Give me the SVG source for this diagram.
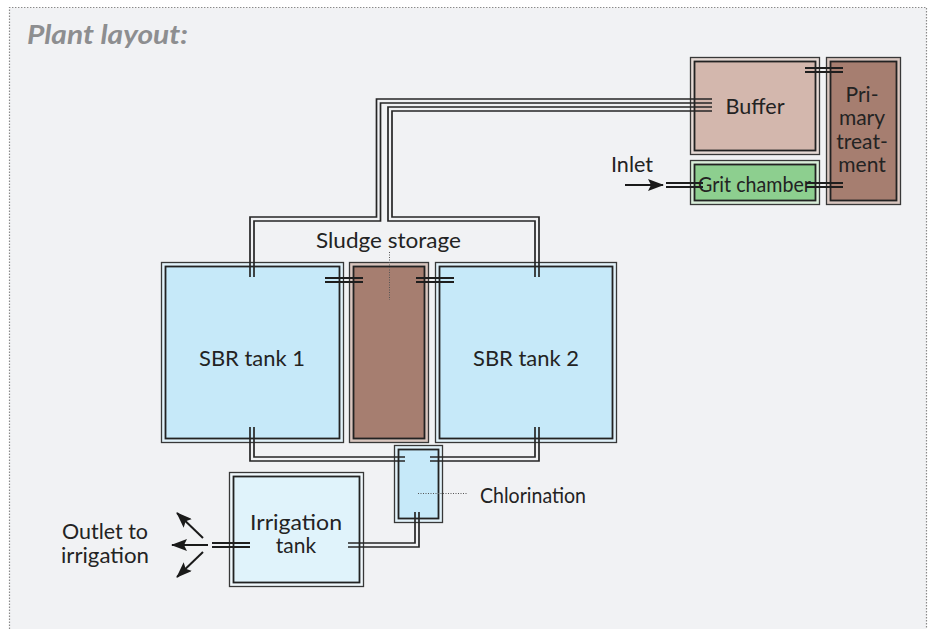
<svg xmlns="http://www.w3.org/2000/svg" width="937" height="629" viewBox="0 0 937 629">
<defs>
<style>
.bg{fill:#f1f2f4}
.frame{fill:none;stroke:#8a8a8a;stroke-width:1.2;stroke-dasharray:1.4 1.6}
.outer{stroke:#383838;stroke-width:1.3}
.inner{stroke:#222;stroke-width:1.8}
.pipe{fill:none;stroke:#262626;stroke-width:1.7;stroke-linejoin:miter}
.stub{fill:none;stroke:#1e1e1e;stroke-width:2}
.lead{fill:none;stroke:#555;stroke-width:1;stroke-dasharray:1 1.5}
.arr{fill:none;stroke:#1a1a1a;stroke-width:2}
text{font-family:Lato,"Liberation Sans",sans-serif;fill:#232323;font-size:22px}
.c{text-anchor:middle}
.s{font-size:21px}
.title{font-weight:bold;font-style:italic;fill:#8d8e90;font-size:27px}
</style>
<marker id="ah" viewBox="0 0 16 12" refX="15" refY="6" markerWidth="16" markerHeight="12" markerUnits="userSpaceOnUse" orient="auto">
<path d="M0,0 L16,6 L0,12 L3,6 Z" fill="#1a1a1a"/>
</marker>
</defs>
<rect width="937" height="629" fill="#ffffff"/>
<rect class="bg" x="9.5" y="7.5" width="917" height="622"/>
<path class="frame" d="M9.5,629 V7.5 H926.5 V629"/>
<text class="title" x="27" y="44" textLength="161" lengthAdjust="spacingAndGlyphs">Plant layout:</text>

<g id="sbr1">
<rect class="outer" x="161.5" y="262.5" width="182" height="180" fill="#e2f2fa"/>
<rect class="inner" x="165.5" y="266.5" width="174" height="172" fill="#c6e9f9"/>
<text class="c" x="252" y="366" textLength="106" lengthAdjust="spacingAndGlyphs">SBR tank 1</text>
</g>
<g id="sludge">
<rect class="outer" x="349.5" y="262.5" width="79" height="180" fill="#d9c6bf"/>
<rect class="inner" x="353.5" y="266.5" width="71" height="172" fill="#a67e70"/>
</g>
<g id="sbr2">
<rect class="outer" x="435.5" y="262.5" width="181" height="180" fill="#e2f2fa"/>
<rect class="inner" x="439.5" y="266.5" width="173" height="172" fill="#c6e9f9"/>
<text class="c" x="526" y="366" textLength="106" lengthAdjust="spacingAndGlyphs">SBR tank 2</text>
</g>
<g id="chlorination">
<rect class="outer" x="394.5" y="445.5" width="48" height="77" fill="#e2f2fa"/>
<rect class="inner" x="398.5" y="449.5" width="40" height="69" fill="#c6e9f9"/>
</g>
<g id="irrigation">
<rect class="outer" x="229.5" y="472.5" width="134" height="114" fill="#f0f8fc"/>
<rect class="inner" x="233.5" y="476.5" width="126" height="106" fill="#e0f3fb"/>
<text class="c s" x="296" y="530" textLength="92" lengthAdjust="spacingAndGlyphs">Irrigation</text>
<text class="c s" x="296" y="553">tank</text>
</g>
<g id="buffer">
<rect class="outer" x="690.5" y="57.5" width="129" height="97" fill="#e6dad5"/>
<rect class="inner" x="694.5" y="61.5" width="121" height="89" fill="#d3b7ad"/>
<text class="c" x="755" y="114" font-size="23" textLength="59" lengthAdjust="spacingAndGlyphs">Buffer</text>
</g>
<g id="primary">
<rect class="outer" x="826.5" y="57.5" width="74" height="147" fill="#d9c6bf"/>
<rect class="inner" x="830.5" y="61.5" width="66" height="139" fill="#a67e70"/>
<text class="c s" x="862" y="102">Pri-</text>
<text class="c s" x="862" y="125">mary</text>
<text class="c s" x="862" y="148.5">treat-</text>
<text class="c s" x="862" y="172">ment</text>
</g>
<g id="grit">
<rect class="outer" x="690.5" y="160.5" width="129" height="44" fill="#d9eed9"/>
<rect class="inner" x="694.5" y="164.5" width="121" height="36" fill="#8dcf8f"/>
<text x="698" y="192" textLength="113" lengthAdjust="spacingAndGlyphs">Grit chamber</text>
</g>

<g id="connectors">
<polyline class="pipe" points="712,99 376.5,99 376.5,217 250,217 250,277"/>
<polyline class="pipe" points="712,103 380.5,103 380.5,221 254,221 254,277"/>
<polyline class="pipe" points="712,107 388,107 388,221 535,221 535,277"/>
<polyline class="pipe" points="712,111 392,111 392,217 539,217 539,277"/>
<polyline class="pipe" points="250,427 250,461 405,461"/>
<polyline class="pipe" points="254,427 254,457 405,457"/>
<polyline class="pipe" points="539,427 539,461 430,461"/>
<polyline class="pipe" points="535,427 535,457 430,457"/>
<polyline class="pipe" points="419,512 419,547 348,547"/>
<polyline class="pipe" points="415,512 415,543 348,543"/>
<path class="stub" d="M325,278 H363 M325,282 H363"/>
<path class="stub" d="M416,278 H454 M416,282 H454"/>
<path class="stub" d="M666,183 H703 M666,187 H703"/>
<path class="stub" d="M806,183 H843 M806,187 H843"/>
<path class="stub" d="M805,68 H843 M805,72 H843"/>
<path class="stub" d="M212,543 H250 M212,547 H250"/>
<line class="arr" x1="625" y1="185" x2="663" y2="185" marker-end="url(#ah)"/>
<line class="arr" x1="208" y1="545" x2="172" y2="545" marker-end="url(#ah)"/>
<line class="arr" x1="203" y1="538" x2="177" y2="513" marker-end="url(#ah)"/>
<line class="arr" x1="203" y1="552" x2="177" y2="577" marker-end="url(#ah)"/>
<path class="lead" d="M389.5,252 V300"/>
<path class="lead" d="M418,493.5 H467"/>
</g>

<text x="316" y="248" textLength="145" lengthAdjust="spacingAndGlyphs">Sludge storage</text>
<text x="480" y="503" textLength="106" lengthAdjust="spacingAndGlyphs">Chlorination</text>
<text class="c" x="632" y="172" textLength="42" lengthAdjust="spacingAndGlyphs">Inlet</text>
<text class="c s" x="105" y="539" textLength="86" lengthAdjust="spacingAndGlyphs">Outlet to</text>
<text class="c s" x="105" y="563" textLength="88" lengthAdjust="spacingAndGlyphs">irrigation</text>
</svg>
